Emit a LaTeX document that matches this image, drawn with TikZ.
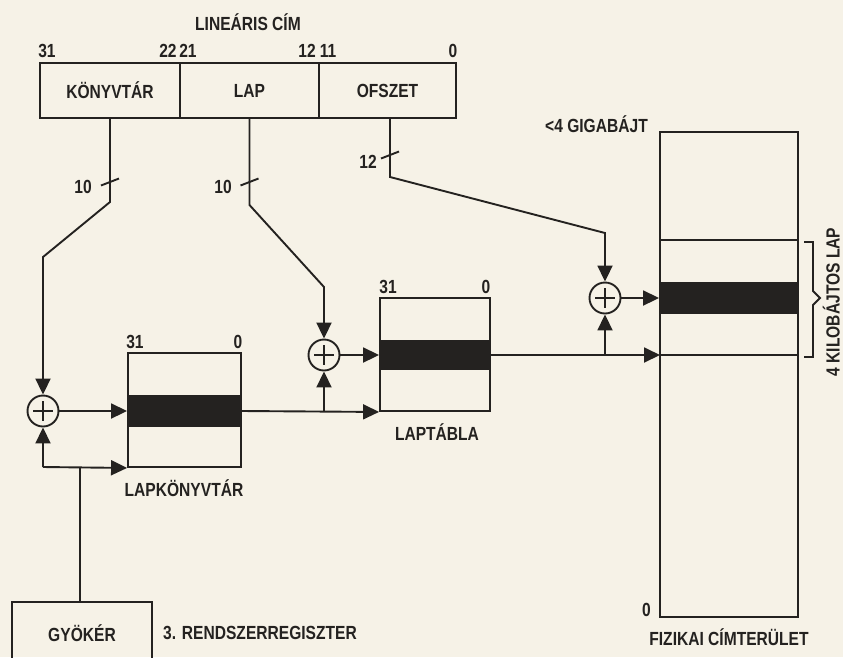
\documentclass[tikz,border=0pt]{standalone}
\usepackage{fontspec}
\setmainfont[FakeStretch=0.82]{Liberation Sans}
\usetikzlibrary{arrows.meta}
\definecolor{paper}{RGB}{246,242,231}
\definecolor{ink}{RGB}{36,34,32}
\begin{document}
\begin{tikzpicture}[x=1pt,y=-1pt,
  every node/.style={font=\fontsize{19}{21}\selectfont\bfseries, text=ink, inner sep=0pt},
  wire/.style={draw=ink, line width=1.9pt},
  arr/.style={wire, -{Triangle[length=16pt,width=15pt]}},
  box/.style={draw=ink, line width=1.9pt, rectangle, inner sep=0pt},
  band/.style={draw=ink, fill=ink, line width=1.9pt, rectangle, inner sep=0pt},
  adder/.style={circle, draw=ink, line width=1.9pt, minimum size=31pt, inner sep=0pt},
  lbl/.style={inner sep=0pt}]
\fill[paper] (0,0) rectangle (843,657);
\useasboundingbox (0,0) rectangle (843,657);

% linear address
\node[lbl] (title) at (248,22) {LINEÁRIS CÍM};
\node[box, minimum width=140pt, minimum height=55pt] (kt) at (110,90.5) {KÖNYVTÁR};
\node[box, minimum width=139pt, minimum height=55pt] (lap) at (249.5,90.5) {LAP};
\node[box, minimum width=137pt, minimum height=55pt] (ofs) at (387.5,90.5) {OFSZET};
\node[lbl] (b31) at (47,51) {31};
\node[lbl] (b22) at (168,51) {22};
\node[lbl] (b21) at (188,51) {21};
\node[lbl] (b12) at (307,51) {12};
\node[lbl] (b11) at (328,51) {11};
\node[lbl] (b0) at (453,51) {0};

% adders
\node[adder] (addL) at (43,411) {};
\node[adder] (addM) at (324,355) {};
\node[adder] (addR) at (605,298) {};
\foreach \a in {addL,addM,addR}{
  \draw[wire] (\a.center) +(-10,0) -- +(10,0);
  \draw[wire] (\a.center) +(0,-10) -- +(0,10);
}

% page directory
\node[box, minimum width=113pt, minimum height=114pt] (lk) at (184.5,410) {};
\node[band, minimum width=113pt, minimum height=30pt] (lkb) at (184.5,411) {};
\node[lbl] (lk31) at (135,342) {31};
\node[lbl] (lk0) at (238,342) {0};
\node[lbl] (lkname) at (184,488) {LAPKÖNYVTÁR};

% page table
\node[box, minimum width=110pt, minimum height=113pt] (lt) at (435,354.5) {};
\node[band, minimum width=110pt, minimum height=29pt] (ltb) at (435,355) {};
\node[lbl] (lt31) at (388,287) {31};
\node[lbl] (lt0) at (486,287) {0};
\node[lbl] (ltname) at (437,432) {LAPTÁBLA};

% physical memory
\node[box, minimum width=138pt, minimum height=485pt] (mem) at (729,374.5) {};
\node[band, minimum width=138pt, minimum height=30pt] (memb) at (729,298) {};
\coordinate (pgtop) at (660,240);
\coordinate (pgbot) at (660,355);
\draw[wire] (pgtop) -- (pgtop -| mem.east);
\draw[wire] (pgbot) -- (pgbot -| mem.east);
\node[lbl, anchor=base east] (giga) at (648,132) {<4 GIGABÁJT};
\node[lbl, anchor=base east] (mem0) at (651,616) {0};
\node[lbl] (memname) at (729,637) {FIZIKAI CÍMTERÜLET};
\draw[wire] (804,242) -- (813,242) -- (813,291) -- (820,298) -- (813,305) -- (813,357) -- (804,357);
\node[lbl, rotate=90, anchor=south] (pglabel) at (840,302) {4 KILOBÁJTOS LAP};

% root register
\node[box, minimum width=140pt, minimum height=90pt] (gy) at (82,647) {};
\node[lbl] (gyname) at (82,633) {GYÖKÉR};
\node[lbl, anchor=west] (cr3) at (163,633) {3. RENDSZERREGISZTER};

% address field connectors
\draw[arr] (kt.south) -- (110,202) -- (43,257) -- (addL.north);
\draw[arr] (lap.south) -- (249.5,205) -- (324,287) -- (addM.north);
\draw[arr] ([xshift=2.5pt]ofs.south) -- (390,177) -- (605,233) -- (addR.north);

% bus width ticks
\coordinate (t1) at (110,182);
\coordinate (t2) at (249.5,182);
\coordinate (t3) at (390,155);
\foreach \t in {t1,t2,t3}{
  \draw[wire] ([shift={(-9,3.5)}]\t) -- ([shift={(9,-3.5)}]\t);
}
\node[lbl, anchor=east] (n1) at (92,187) {10};
\node[lbl, anchor=east] (n2) at (232,187) {10};
\node[lbl, anchor=east] (n3) at (377,162) {12};

% data path
\draw[arr] (addL.east) -- (lkb.west);
\coordinate (j3) at (43,467);
\coordinate (j4) at (80,467);
\draw[arr] (j3) -- (addL.south);
\draw[arr] (j3) -- (lk.south west);
\draw[wire] (j4) -- (j4 |- gy.north);

\draw[arr] (lkb.east) -- (lt.south west);
\coordinate (j1) at (324,411);
\draw[arr] (j1) -- (addM.south);
\draw[arr] (addM.east) -- (ltb.west);

\draw[arr] (ltb.east) -- (pgbot);
\coordinate (j2) at (605,355);
\draw[arr] (j2) -- (addR.south);
\draw[arr] (addR.east) -- (memb.west);
\end{tikzpicture}
\end{document}
